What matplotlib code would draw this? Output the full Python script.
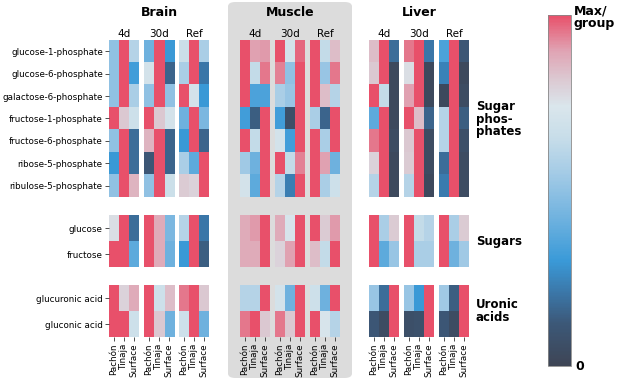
import numpy as np
from matplotlib import pyplot as plt
from matplotlib.colors import LinearSegmentedColormap
from matplotlib.patches import FancyBboxPatch
from matplotlib.cm import ScalarMappable

metabolites = ['glucose-1-phosphate', 'glucose-6-phosphate', 'galactose-6-phosphate',
               'fructose-1-phosphate', 'fructose-6-phosphate', 'ribose-5-phosphate',
               'ribulose-5-phosphate', 'glucose', 'fructose',
               'glucuronic acid', 'gluconic acid']
populations = ['Pachón', 'Tinaja', 'Surface']
timepoints = ['4d', '30d', 'Ref']
tissues = ['Brain', 'Muscle', 'Liver']
groups = ['Sugar\nphos-\nphates', 'Sugars', 'Uronic\nacids']
group_rows = [(0, 7), (7, 9), (9, 11)]

# columns: 4d (P, T, S) | 30d (P, T, S) | Ref (P, T, S), scaled 0..max/group
brain = [
    [0.50, 1, 0.60, 0.42, 1, 0.30, 0.67, 1, 0.57],
    [0.50, 1, 0.32, 0.71, 1, 0.16, 0.57, 1, 0.21],
    [0.50, 1, 0.57, 0.50, 1, 0.50, 1, 0.71, 0.30],
    [1, 0.82, 0.68, 1, 0.82, 0.71, 0.42, 1, 0.45],
    [0.50, 1, 0.18, 0.86, 1, 0.16, 0.30, 1, 0.16],
    [0.30, 1, 0.18, 0.11, 1, 0.16, 0.57, 0.38, 1],
    [0.50, 1, 0.86, 0.50, 1, 0.67, 0.81, 0.79, 1],
    [0.76, 1, 0.18, 1, 0.88, 0.45, 0.60, 1, 0.21],
    [1, 1, 0.38, 1, 0.88, 0.42, 0.30, 1, 0.14],
    [1, 0.79, 0.88, 1, 0.68, 0.84, 0.95, 1, 0.82],
    [1, 1, 0.68, 1, 0.82, 0.42, 0.68, 1, 0.42],
]
muscle = [
    [1, 0.90, 0.91, 1, 0.71, 0.97, 1, 0.64, 0.84],
    [1, 0.64, 0.95, 0.94, 0.50, 1, 1, 0.52, 0.95],
    [1, 0.34, 0.34, 0.57, 0.52, 1, 1, 0.84, 0.60],
    [0.32, 0.14, 1, 0.32, 0.07, 1, 0.57, 0.16, 1],
    [1, 0.64, 1, 0.71, 0.32, 1, 1, 0.57, 1],
    [0.54, 0.42, 1, 1, 0.64, 0.94, 1, 0.90, 0.42],
    [0.71, 0.38, 1, 0.60, 0.23, 1, 1, 0.57, 0.68],
    [0.88, 0.91, 1, 0.88, 0.73, 1, 1, 0.81, 0.91],
    [0.88, 0.88, 1, 0.79, 0.90, 1, 0.84, 0.64, 1],
    [0.60, 0.60, 1, 0.71, 0.42, 1, 0.68, 0.42, 1],
    [0.95, 1, 0.82, 0.95, 0.82, 1, 1, 0.73, 0.60],
]
liver = [
    [0.84, 1, 0.18, 0.95, 1, 0.21, 0.34, 1, 0.11],
    [0.82, 1, 0.03, 0.76, 1, 0.03, 0.24, 1, 0.03],
    [1, 0.64, 0.03, 0.90, 1, 0.03, 0.03, 1, 0.05],
    [0.38, 1, 0.03, 1, 0.84, 0.16, 0.60, 1, 0.14],
    [0.95, 1, 0.05, 0.82, 1, 0.05, 0.60, 1, 0.07],
    [0.79, 1, 0.03, 0.81, 1, 0.05, 0.18, 1, 0.05],
    [0.60, 1, 0.03, 0.60, 1, 0.03, 0.22, 1, 0.05],
    [1, 0.57, 0.81, 1, 0.64, 0.60, 1, 0.57, 0.81],
    [1, 0.38, 0.52, 1, 0.57, 0.57, 1, 0.42, 0.54],
    [0.52, 0.18, 1, 0.52, 0.30, 1, 0.54, 0.14, 1],
    [0.11, 0.05, 1, 0.07, 0.08, 1, 0.11, 0.05, 1],
]
data = [np.array(brain), np.array(muscle), np.array(liver)]

cmap = LinearSegmentedColormap.from_list('maxgroup', [
    (0.00, '#3e4555'), (0.12, '#3c5878'), (0.20, '#3b74a4'), (0.30, '#3a9ad8'),
    (0.42, '#6fb2df'), (0.55, '#a4cbe6'), (0.65, '#c7dde9'), (0.74, '#dae6ec'),
    (0.82, '#dcc8d1'), (0.90, '#e0a3b3'), (1.00, '#e8506a')])

W, H = 617, 380
fig = plt.figure(figsize=(W / 100, H / 100), dpi=100)


def px_axes(x0, y0, x1, y1):
    return fig.add_axes([x0 / W, 1 - y1 / H, (x1 - x0) / W, (y1 - y0) / H])


# grey band behind muscle
fig.patches.append(FancyBboxPatch((228 / W, 2 / H), 124 / W, 376 / H,
                                  boxstyle='round,pad=0,rounding_size=0.012',
                                  transform=fig.transFigure, facecolor='#dcdcdc',
                                  edgecolor='none', zorder=-5))

tissue_x = [109, 240, 369]
group_y = [(40, 197), (215, 267), (285, 337)]

for t, tissue in enumerate(tissues):
    fig.text((tissue_x[t] + 50) / W, 1 - 13 / H, tissue, ha='center', va='center',
             fontsize=9, fontweight='bold')
    for k, tp in enumerate(timepoints):
        x0 = tissue_x[t] + 35 * k
        for g, (r0, r1) in enumerate(group_rows):
            y0, y1 = group_y[g]
            ax = px_axes(x0, y0, x0 + 30, y1)
            ax.patch.set_alpha(0)
            ax.imshow(data[t][r0:r1, 3 * k:3 * k + 3], cmap=cmap, vmin=0, vmax=1,
                      aspect='auto', interpolation='nearest')
            for s in ax.spines.values():
                s.set_visible(False)
            ax.tick_params(length=3, width=0.6, color='#333333', labelsize=6.3, pad=1.5)
            if t == 0 and k == 0:
                ax.set_yticks(range(r1 - r0))
                ax.set_yticklabels(metabolites[r0:r1])
            else:
                ax.set_yticks([])
            if g == 2:
                ax.set_xticks(range(3))
                ax.set_xticklabels(populations, rotation=90)
            else:
                ax.set_xticks([])
            if g == 0:
                ax.set_title(tp, fontsize=7.5, pad=2)

group_cy = [119, 241, 311]
for g, label in enumerate(groups):
    fig.text(476 / W, 1 - group_cy[g] / H, label, ha='left', va='center',
             fontsize=8.5, fontweight='bold', linespacing=0.95)

cax = px_axes(548, 15, 571, 366)
cb = fig.colorbar(ScalarMappable(cmap=cmap), cax=cax)
cb.set_ticks([])
cb.outline.set_linewidth(0.6)
cb.outline.set_edgecolor('#888888')
fig.text(574 / W, 1 - 4 / H, 'Max/\ngroup', ha='left', va='top', fontsize=9,
         fontweight='bold', linespacing=0.95)
fig.text(575 / W, 1 - 367 / H, '0', ha='left', va='center', fontsize=9,
         fontweight='bold')

fig.savefig('out.png', dpi=100)
